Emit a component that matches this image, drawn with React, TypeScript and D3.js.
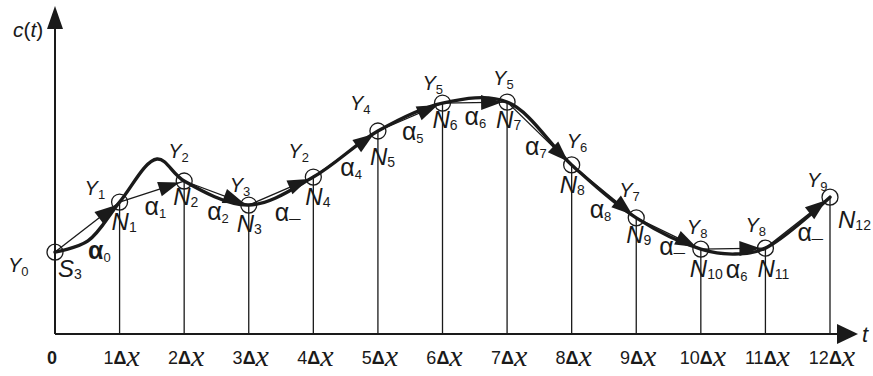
import React from "react";
import * as d3 from "d3";

// ---- data ----
const tickSteps = [0, 1, 2, 3, 4, 5, 6, 7, 8, 9, 10, 11, 12];
const tickNumbers = ["0", "1", "2", "3", "4", "5", "6", "7", "8", "9", "10", "11", "12"];
const nodeT = [0, 1, 2, 3, 4, 5, 6, 7, 8, 9, 10, 11, 12];
const nodeC = [24.9, 40.1, 46.5, 39.2, 47.7, 61.7, 70.2, 70.5, 51.4, 35.3, 25.8, 26.1, 41.6];
const nodeNames = ["S", "N", "N", "N", "N", "N", "N", "N", "N", "N", "N", "N", "N"];
const nodeSubs = ["3", "1", "2", "3", "4", "5", "6", "7", "8", "9", "10", "11", "12"];
const yNames = ["0", "1", "2", "3", "2", "4", "5", "5", "6", "7", "8", "8", "9"];
const aSubs = ["0", "1", "2", "_", "4", "5", "6", "7", "8", "_", "6", "_"];
const curveT = [0, 0.51, 1, 1.58, 2, 3, 4, 5, 6, 7, 8, 9, 10, 10.53, 11, 12];
const curveC = [24.9, 28.3, 40.1, 53.2, 46.5, 39.2, 47.7, 61.7, 70.2, 70.5, 51.4, 35.3, 25.8, 24.3, 26.1, 41.6];

// ---- layout (pixel offsets of labels relative to nodes) ----
const nLabOff = [[3, 25], [-8, 28], [-11, 24], [-12, 27], [-8, 28], [-8, 34], [-10, 25], [-11, 26], [-12, 28], [-10, 25], [-11, 28], [-8, 29], [8, 31]];
const yLabOff = [[-47, 20], [-35, -7], [-16, -23], [-19, -13], [-25, -19], [-28, -21], [-20, -13], [-14, -17], [-5, -17], [-17, -21], [-14, -15], [-20, -16], [-23, -10]];
const aLabOff = [[33, 7], [25, 13], [23, 39], [26, 16], [27, -1], [24, 9], [22, 22], [18, 53], [18, 53], [23, 37], [25, 29], [32, -7]];

const W = 873, H = 376;
const x = d3.scaleLinear().domain([0, 12]).range([55, 830]);
const y = d3.scaleLinear().domain([0, 100]).range([334, 5]);
const SANS = "'Liberation Sans', Arial, sans-serif";
const SERIF = "'Liberation Serif', 'Times New Roman', serif";
const INK = "#1a1a1a";

function arrowHead(x1: number, y1: number, x2: number, y2: number, back = 5, len = 21, hw = 7.5) {
  const dx = x2 - x1, dy = y2 - y1;
  const L = Math.hypot(dx, dy);
  const ux = dx / L, uy = dy / L;
  const tx = x2 - ux * back, ty = y2 - uy * back;
  const bx = tx - ux * len, by = ty - uy * len;
  const px = -uy * hw, py = ux * hw;
  return `${tx},${ty} ${bx + px},${by + py} ${bx - px},${by - py}`;
}

export default function App() {
  const curvePts: [number, number][] = curveT.map((t, i) => [x(t), y(curveC[i])]);
  const line = d3.line().curve(d3.curveCatmullRom.alpha(0.5));
  const curvePath = line(curvePts) || "";
  const nodes = nodeT.map((t, i) => ({ px: x(t), py: y(nodeC[i]) }));
  const base = y(0);

  return (
    <svg width={W} height={H} style={{ position: "absolute", left: 0, top: 0, background: "#fff" }}>
      <rect width={W} height={H} fill="#fff" />
      {/* verticals */}
      {nodes.slice(1).map((n, i) => (
        <line key={"v" + i} x1={n.px} x2={n.px} y1={n.py} y2={base} stroke={INK} strokeWidth={1.3} />
      ))}
      {/* axes */}
      <line x1={x(0)} x2={838} y1={base} y2={base} stroke={INK} strokeWidth={2} />
      <polygon points={`858,${base} 837,${base - 10} 837,${base + 10}`} fill={INK} />
      <line x1={x(0)} x2={x(0)} y1={base} y2={26} stroke={INK} strokeWidth={2} />
      <polygon points={`${x(0)},6 ${x(0) - 8},29 ${x(0) + 8},29`} fill={INK} />
      {/* thick true curve */}
      <path d={curvePath} fill="none" stroke={INK} strokeWidth={3.4} strokeLinecap="round" />
      {/* straight arrows */}
      {nodes.slice(0, -1).map((n, i) => {
        const m = nodes[i + 1];
        return (
          <g key={"s" + i}>
            <line x1={n.px} y1={n.py} x2={m.px} y2={m.py} stroke={INK} strokeWidth={1.3} />
            <polygon points={arrowHead(n.px, n.py, m.px, m.py)} fill={INK} />
          </g>
        );
      })}
      {/* node circles */}
      {nodes.map((n, i) => (
        <circle key={"c" + i} cx={n.px} cy={n.py} r={8} fill="none" stroke={INK} strokeWidth={1.3} />
      ))}
      {/* node labels */}
      {nodes.map((n, i) => (
        <text key={"n" + i} x={n.px + nLabOff[i][0]} y={n.py + nLabOff[i][1]} fontFamily={SANS} fontStyle="italic" fontSize={24} fill={INK}>
          {nodeNames[i]}
          <tspan fontSize={14} fontStyle="normal" dy={2}>{nodeSubs[i]}</tspan>
        </text>
      ))}
      {/* Y labels */}
      {nodes.map((n, i) => (
        <text key={"y" + i} x={n.px + yLabOff[i][0]} y={n.py + yLabOff[i][1]} fontFamily={SANS} fontStyle="italic" fontSize={20} fill={INK}>
          Y
          <tspan fontSize={13} fontStyle="normal" dy={4}>{yNames[i]}</tspan>
        </text>
      ))}
      {/* alpha labels */}
      {aSubs.map((s, i) => (
        <text key={"a" + i} x={nodes[i].px + aLabOff[i][0]} y={nodes[i].py + aLabOff[i][1]} fontFamily={SANS} fontSize={25} fontWeight={i === 0 ? "bold" : "normal"} fill={INK}>
          α
          {s === "_" ? (
            <tspan fontSize={20} fontWeight="bold" dy={-4}>_</tspan>
          ) : (
            <tspan fontSize={13} fontWeight="normal" dy={3}>{s}</tspan>
          )}
        </text>
      ))}
      {/* tick labels */}
      {tickSteps.map((t, i) => (
        <text key={"t" + i} x={x(t) + (i === 0 ? -3 : 2)} y={364} textAnchor="middle" fill={INK} fontFamily={SANS} fontSize={18} fontWeight={i === 0 ? "bold" : "normal"}>
          {tickNumbers[i]}
          {i > 0 && <tspan fontWeight="bold">Δ</tspan>}
          {i > 0 && <tspan fontFamily={SERIF} fontStyle="italic" fontWeight="normal" fontSize={30} dy={2}>x</tspan>}
        </text>
      ))}
      {/* axis titles */}
      <text x={13} y={37} fontFamily={SANS} fontSize={21} fill={INK}>
        <tspan fontStyle="italic">c</tspan>(<tspan fontStyle="italic">t</tspan>)
      </text>
      <text x={862} y={342} fontFamily={SANS} fontStyle="italic" fontSize={22} fill={INK}>t</text>
    </svg>
  );
}
